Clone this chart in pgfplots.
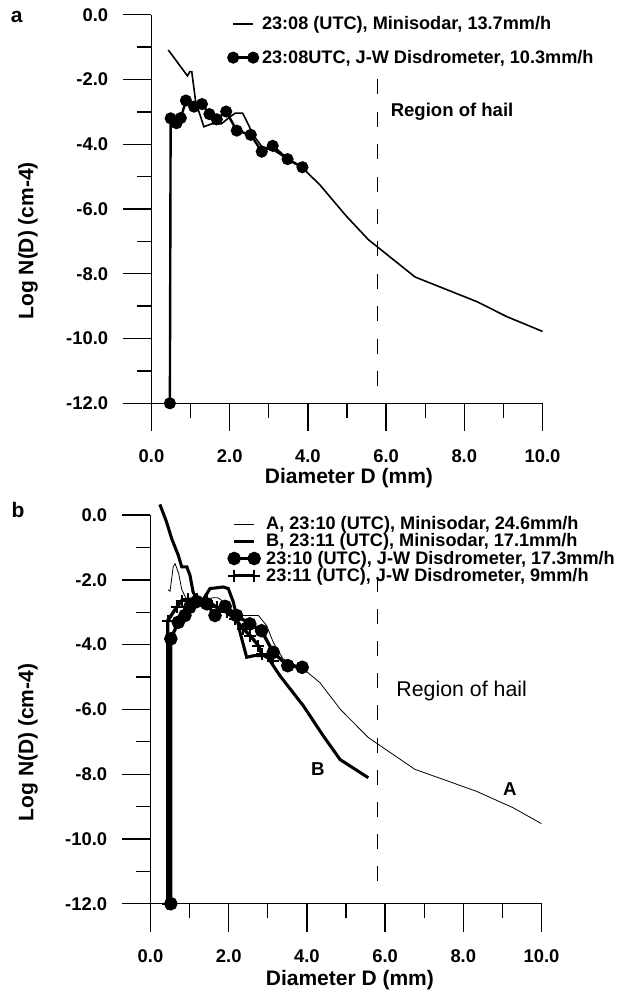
\documentclass[border=0pt]{standalone}
\usepackage{pgfplots}
\pgfplotsset{compat=1.18}
\usepackage{fontspec}
\setmainfont{Liberation Sans}

% 1 px of the reference = 0.75pt
\pgfplotsset{
  dsd/.style={
    scale only axis, width=293.25pt, height=291.45pt,
    xmin=0, xmax=10, ymin=-12, ymax=0,
    axis lines*=left, clip=false,
    tick align=outside,
    major tick length=21pt, minor tick length=11pt,
    tick style={black, line width=1pt},
    axis line style={black, line width=1.1pt},
    xtick={0,2,...,10}, minor xtick={1,3,...,9},
    xticklabels={0.0,2.0,4.0,6.0,8.0,10.0},
    ytick={-12,-10,...,0}, minor ytick={-11,-9,...,-1},
    yticklabels={-12.0,-10.0,-8.0,-6.0,-4.0,-2.0,0.0},
    tick label style={font=\bfseries\fontsize{13.8pt}{15pt}\selectfont},
    xticklabel style={yshift=-10pt},
    yticklabel style={xshift=-8pt},
    legend cell align=left,
    legend image code/.code={\draw[#1] plot coordinates {(0pt,0pt) (15pt,0pt)};},
  },
}
\tikzset{lab/.style={font=\bfseries\fontsize{15.75pt}{17pt}\selectfont}}

\begin{document}
\begin{tikzpicture}
\path[use as bounding box] (-112.875pt,-66.975pt) rectangle (355.875pt,677.775pt);

% ---------- panel a ----------
\begin{axis}[dsd, at={(0.75pt,375.3pt)}, anchor=south west,
  legend style={draw=none, fill=none, at={(axis cs:1.96,-0.04)}, anchor=north west,
    inner sep=0pt, row sep=14pt, column sep=3pt, nodes={inner sep=0pt},
    font=\bfseries\fontsize{13.6pt}{15pt}\selectfont}]
\addplot[black, line width=1.2pt] coordinates {
  (0.43,-1.09) (0.92,-1.89) (0.98,-1.76) (1.03,-1.76) (1.13,-2.69) (1.34,-3.46)
  (1.54,-3.37) (1.79,-3.37) (1.96,-3.20) (2.14,-3.04) (2.33,-3.04) (2.48,-3.40)
  (2.60,-3.71) (2.82,-4.07) (3.12,-4.18) (3.48,-4.46) (3.88,-4.75) (4.31,-5.26)
  (4.99,-6.23) (5.55,-6.95) (6.74,-8.10) (8.32,-8.86) (9.08,-9.32) (10.0,-9.78)};
\addlegendentry{23:08 (UTC), Minisodar, 13.7mm/h}
\addplot[black, line width=1.8pt, mark=*, mark size=3.6pt] coordinates {
  (0.47,-12) (0.49,-3.20) (0.64,-3.35) (0.75,-3.19) (0.88,-2.65) (1.09,-2.84)
  (1.29,-2.76) (1.48,-3.07) (1.67,-3.23) (1.91,-2.99) (2.18,-3.58) (2.54,-3.71)
  (2.82,-4.23) (3.10,-4.05) (3.48,-4.46) (3.86,-4.71)};
\addlegendentry{23:08UTC, J-W Disdrometer, 10.3mm/h}
\addplot[black, line width=1pt, dash pattern=on 11.25pt off 13.05pt, forget plot]
  coordinates {(5.78,-2.0) (5.78,-11.46)};
\node[font=\bfseries\fontsize{13.9pt}{15pt}\selectfont, anchor=west] at (axis cs:6.0,-3.0) {Region of hail};
\node[lab] at (axis cs:5.05,-14.30) {Diameter D (mm)};
\node[lab, rotate=90] at (axis cs:-3.16,-6.98) {Log N(D) (cm-4)};
\node[lab] at (axis cs:-3.45,-0.06) {a};
\end{axis}

% ---------- panel b ----------
\begin{axis}[dsd, at={(0pt,0pt)}, anchor=south west,
  legend style={draw=none, fill=none, at={(axis cs:1.98,-0.04)}, anchor=north west,
    inner sep=0pt, row sep=1.5pt, column sep=4.5pt, nodes={inner sep=0pt},
    font=\bfseries\fontsize{13.6pt}{15pt}\selectfont}]
\addplot[black, line width=0.6pt] coordinates {
  (0.45,-2.30) (0.50,-2.35) (0.58,-1.60) (0.63,-1.50) (0.72,-1.80) (0.80,-2.30)
  (0.92,-2.60) (1.20,-2.60) (1.45,-2.60) (1.60,-2.55) (1.72,-2.55) (1.90,-2.70)
  (2.10,-2.95) (2.30,-3.10) (2.50,-3.10) (2.76,-3.10) (2.97,-3.41) (3.14,-3.93)
  (3.39,-4.44) (3.91,-4.75) (4.33,-5.17) (4.85,-5.99) (5.02,-6.20) (5.57,-6.87)
  (6.76,-7.85) (8.34,-8.53) (9.28,-9.04) (10.0,-9.53)};
\addlegendentry{A, 23:10 (UTC), Minisodar, 24.6mm/h}
\addplot[black, line width=2.3pt] coordinates {
  (0.24,0.33) (0.41,-0.21) (0.54,-0.72) (0.71,-1.24) (0.80,-1.60) (0.93,-1.60)
  (1.01,-1.86) (1.09,-2.38) (1.20,-2.62) (1.35,-2.60) (1.44,-2.43) (1.52,-2.27)
  (1.86,-2.22) (1.99,-2.27) (2.12,-2.69) (2.29,-3.62) (2.46,-4.39) (2.65,-4.34)
  (2.97,-4.34) (3.31,-4.96) (3.91,-5.89) (4.42,-6.82) (4.85,-7.55) (5.57,-8.11)};
\addlegendentry{B, 23:11 (UTC), Minisodar, 17.1mm/h}
\addplot[black, line width=2.5pt, mark=*, mark size=3.8pt] coordinates {
  (0.52,-12) (0.52,-3.82) (0.71,-3.31) (0.88,-3.10) (1.00,-2.85) (1.18,-2.67)
  (1.44,-2.74) (1.65,-3.10) (1.91,-2.82) (2.20,-3.10) (2.54,-3.36) (2.84,-3.57)
  (3.14,-4.24) (3.51,-4.65) (3.88,-4.70)};
\addlegendentry{23:10 (UTC), J-W Disdrometer, 17.3mm/h}
\addplot[black, line width=2.5pt, mark=+, mark size=4.5pt, mark options={line width=1.5pt}] coordinates {
  (0.44,-12) (0.44,-3.26) (0.67,-2.84) (0.80,-2.64) (0.97,-2.60) (1.18,-2.60)
  (1.45,-2.65) (1.70,-2.85) (1.95,-3.00) (2.16,-3.20) (2.37,-3.51) (2.55,-3.72)
  (2.76,-4.03) (2.84,-4.29) (3.14,-4.50)};
\addlegendentry{23:11 (UTC), J-W Disdrometer, 9mm/h}
\addplot[black, line width=1pt, dash pattern=on 11.25pt off 12.9pt, forget plot]
  coordinates {(5.80,-1.9) (5.80,-11.4)};
\node[font=\fontsize{16pt}{18pt}\selectfont, anchor=west] at (axis cs:6.17,-5.43) {Region of hail};
\node[font=\bfseries\fontsize{14pt}{16pt}\selectfont] at (axis cs:4.28,-7.85) {B};
\node[font=\bfseries\fontsize{14pt}{16pt}\selectfont] at (axis cs:9.19,-8.47) {A};
\node[lab] at (axis cs:5.10,-14.37) {Diameter D (mm)};
\node[lab, rotate=90] at (axis cs:-3.13,-7.02) {Log N(D) (cm-4)};
\node[lab] at (axis cs:-3.39,0.15) {b};
\end{axis}
\end{tikzpicture}
\end{document}
